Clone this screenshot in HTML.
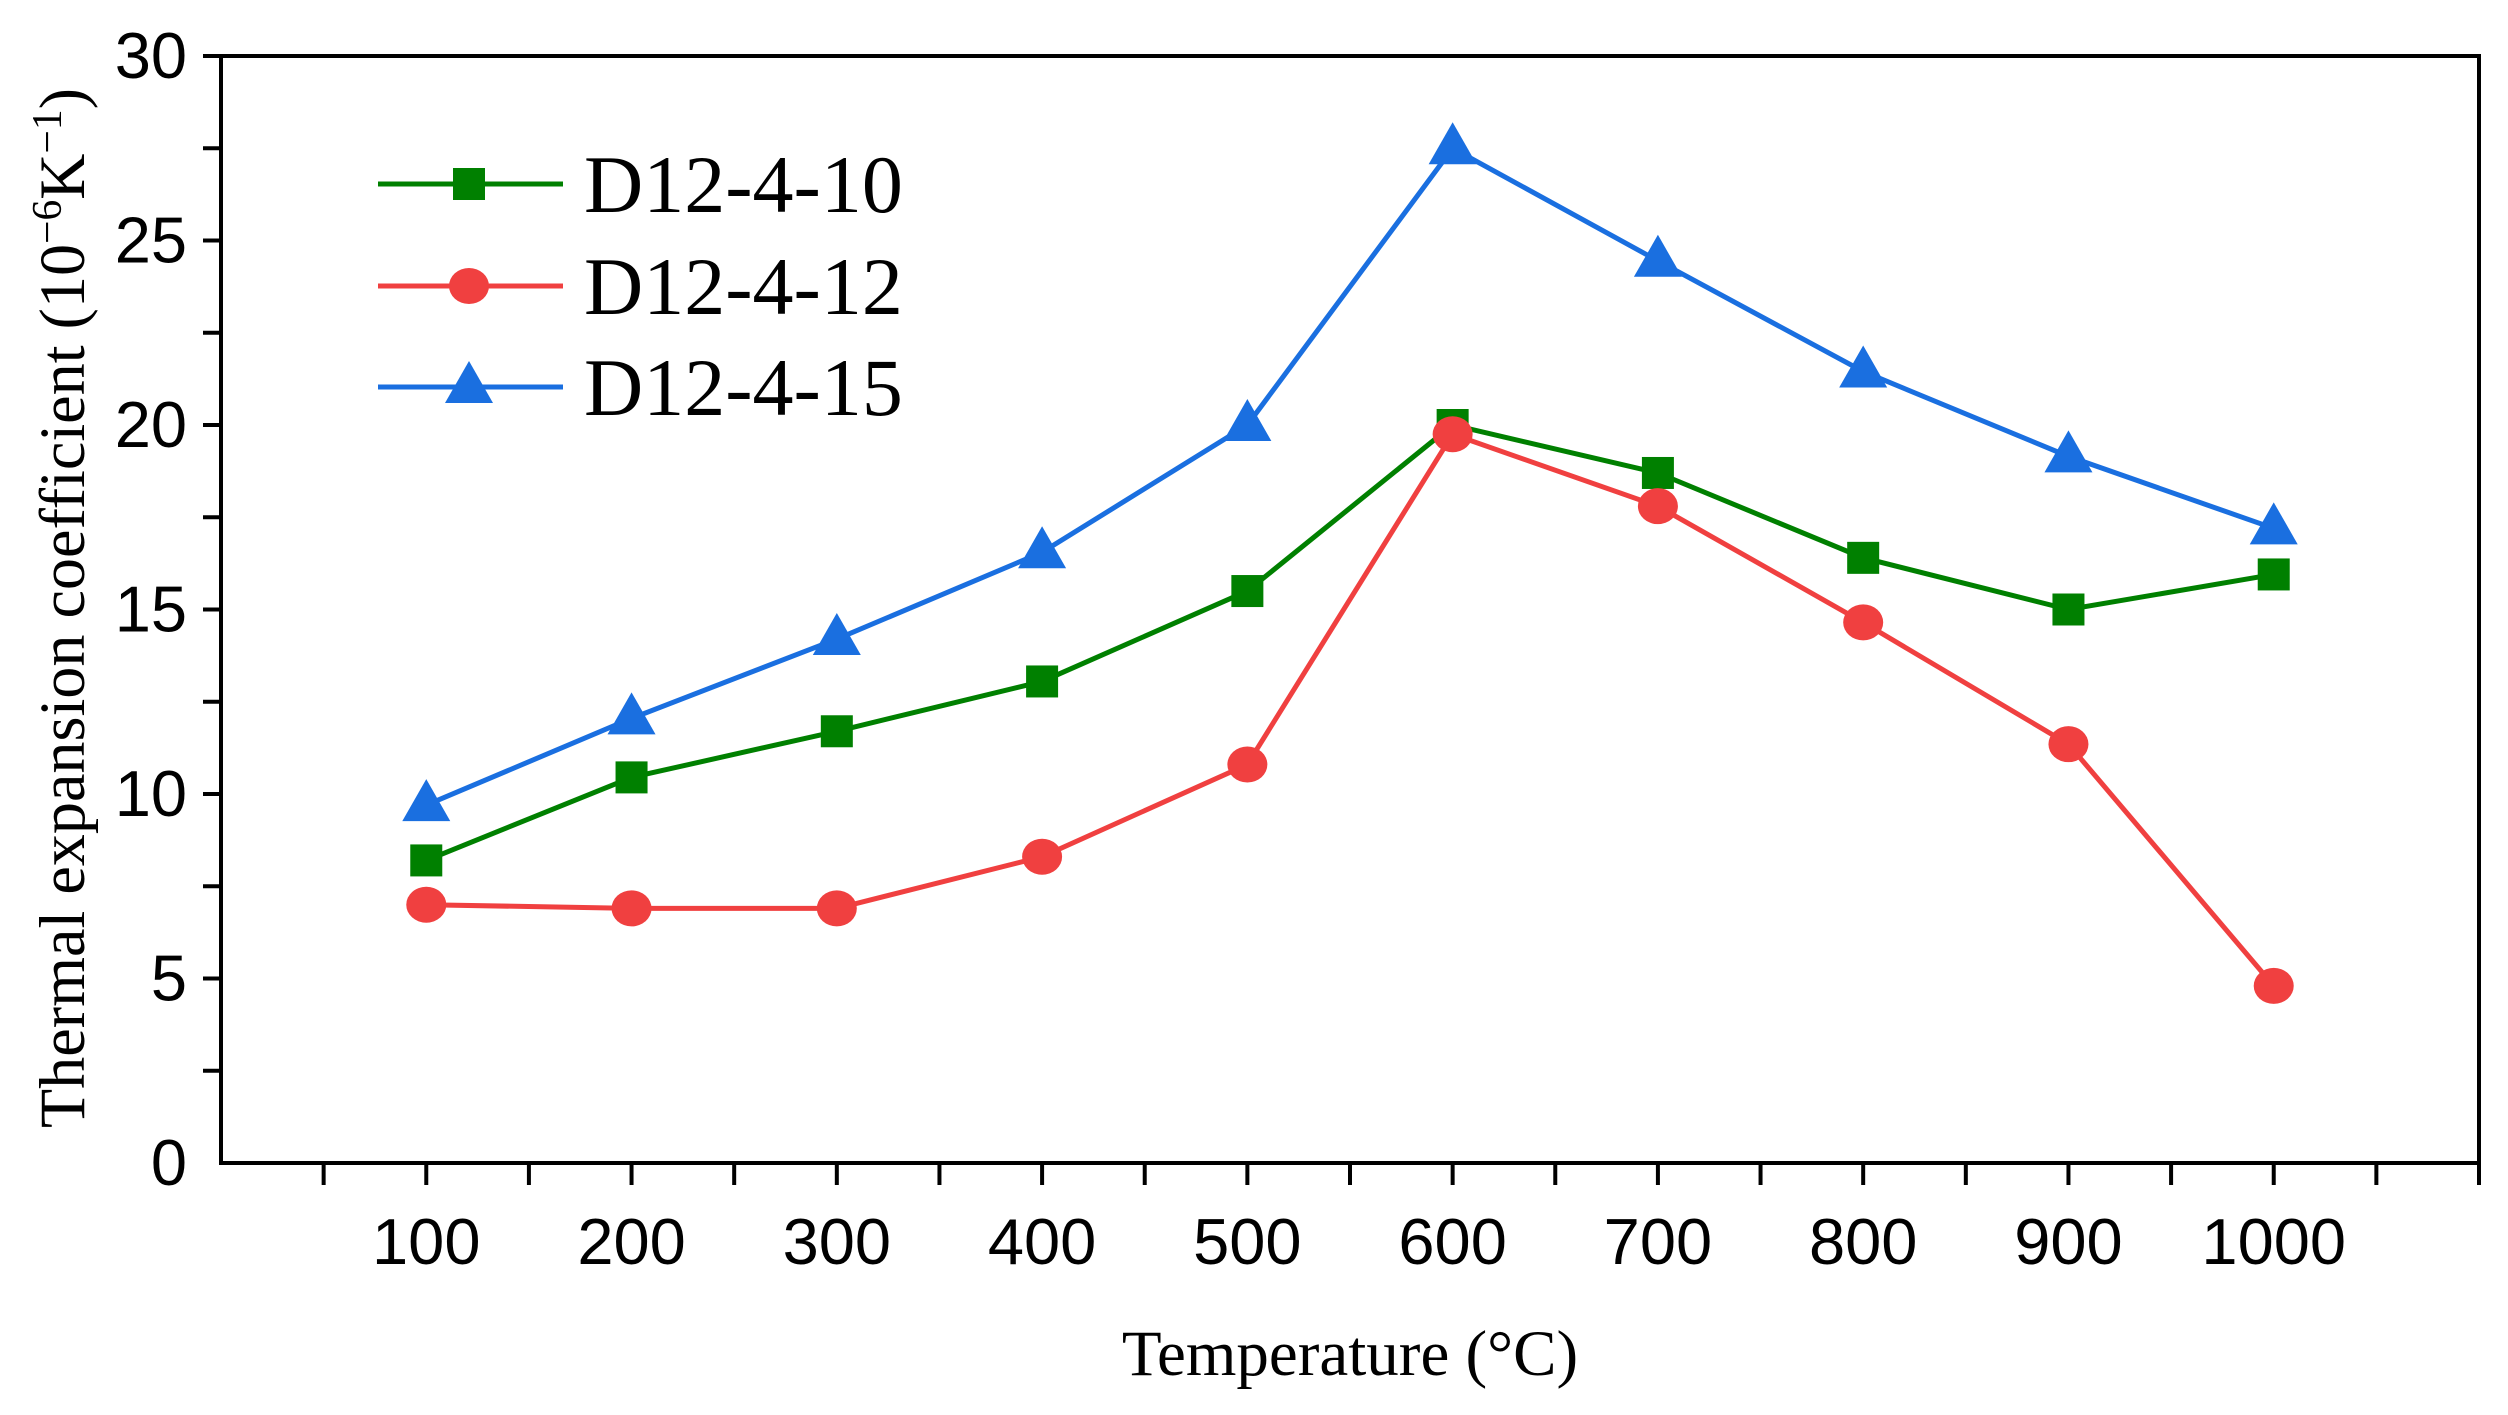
<!DOCTYPE html>
<html><head><meta charset="utf-8"><style>html,body{margin:0;padding:0;background:#fff}svg{display:block}</style></head>
<body>
<svg id="chart" width="2508" height="1415" viewBox="0 0 2508 1415" xmlns="http://www.w3.org/2000/svg">
<rect width="2508" height="1415" fill="#fff"/>
<g id="plot"></g>
</svg>
<script>
const temps = [100,200,300,400,500,600,700,800,900,1000];
const s10 = [8.2,10.45,11.7,13.05,15.5,20.0,18.7,16.4,15.0,15.95];
const s12 = [7.0,6.9,6.9,8.3,10.8,19.75,17.8,14.65,11.35,4.8];
const s15 = [9.7,12.05,14.2,16.55,20.0,27.5,24.45,21.45,19.15,17.2];
const xTickLabels = [100,200,300,400,500,600,700,800,900,1000];
const yTickLabels = [0,5,10,15,20,25,30];
const seriesNames = ["D12-4-10","D12-4-12","D12-4-15"];

const L=221,R=2479,T=56,B=1163;
const xmin=0,xmax=1100,ymin=0,ymax=30;
const xs=v=>L+(v-xmin)/(xmax-xmin)*(R-L);
const ys=v=>B-(v-ymin)/(ymax-ymin)*(B-T);
const NS="http://www.w3.org/2000/svg";
const g=document.getElementById('plot');
function mk(tag,attrs,parent){const e=document.createElementNS(NS,tag);for(const k in attrs)e.setAttribute(k,attrs[k]);(parent||g).appendChild(e);return e;}

let fr=mk('rect',{x:L,y:T,width:R-L,height:B-T,fill:'none',stroke:'#000','stroke-width':4});



for(let v=50;v<=1100;v+=50){
  let t=mk('line',{x1:xs(v),x2:xs(v),y1:B,y2:B+22,stroke:'#000','stroke-width':4});
  
  
}
xTickLabels.forEach(v=>{
  let t=mk('text',{x:xs(v),y:1264,'text-anchor':'middle','font-family':'Liberation Sans, sans-serif','font-size':65,fill:'#000'});
  t.textContent=v;
  
  
});
for(let v=2.5;v<=30;v+=2.5){
  let t=mk('line',{x1:L-18,x2:L,y1:ys(v),y2:ys(v),stroke:'#000','stroke-width':4});
  
  
}
yTickLabels.forEach(v=>{
  let t=mk('text',{x:187,y:ys(v)+22,'text-anchor':'end','font-family':'Liberation Sans, sans-serif','font-size':65,fill:'#000'});
  t.textContent=v;
  
  
});
let xt=mk('text',{x:1350,y:1375,'text-anchor':'middle','font-family':'Liberation Serif, serif','font-size':65,fill:'#000'});
xt.textContent='Temperature (°C)';


let yt=mk('text',{x:0,y:0,'text-anchor':'middle','font-family':'Liberation Serif, serif','font-size':65,fill:'#000',transform:'translate(84,608) rotate(-90)',textLength:1040,lengthAdjust:'spacingAndGlyphs'});
yt.innerHTML='Thermal expansion coefficient (10<tspan baseline-shift="super" font-size="42">−6</tspan>K<tspan baseline-shift="super" font-size="42">−1</tspan>)';



const colors=['#008000','#f04040','#1a6fe0'];
const data=[s10,s12,s15];
function marker(kind,cx,cy,color,parent){
  if(kind===0) return mk('rect',{x:cx-16,y:cy-16,width:32,height:32,fill:color},parent);
  if(kind===1) return mk('ellipse',{cx:cx,cy:cy,rx:20,ry:18,fill:color},parent);
  return mk('polygon',{points:`${cx},${cy-26} ${cx-24},${cy+16} ${cx+24},${cy+16}`,fill:color},parent);
}
data.forEach((arr,i)=>{
  const sg=mk('g',{});
  
  
  const pts=arr.map((v,j)=>xs(temps[j])+','+ys(v)).join(' ');
  let pl=mk('polyline',{points:pts,fill:'none',stroke:colors[i],'stroke-width':5},sg);
  
  
  arr.forEach((v,j)=>{
    let m=marker(i,xs(temps[j]),ys(v),colors[i],sg);
    
    
  });
});
const legY=[184,286,387];
const lg=mk('g',{});


seriesNames.forEach((n,i)=>{
  let ln=mk('line',{x1:378,x2:563,y1:legY[i],y2:legY[i],stroke:colors[i],'stroke-width':5},lg);
  
  
  let m=marker(i,469,legY[i],colors[i],lg);
  
  
  let t=mk('text',{x:584,y:legY[i]+28,'font-family':'Liberation Serif, serif','font-size':82,fill:'#000'},lg);
  t.textContent=n;
  
  
});
</script>
</body></html>
